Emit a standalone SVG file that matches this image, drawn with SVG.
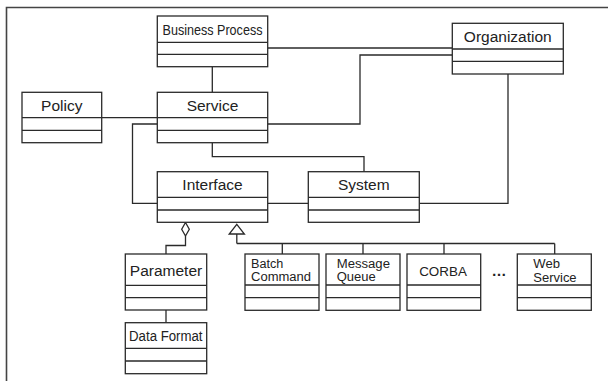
<svg xmlns="http://www.w3.org/2000/svg" width="608" height="381" viewBox="0 0 608 381">
<style>
.box{fill:#fff;stroke:#2a2a2a;stroke-width:1.3}
.div{stroke:#2a2a2a;stroke-width:1.3;fill:none}
.c{fill:none;stroke:#2a2a2a;stroke-width:1.3}
text{font-family:"Liberation Sans",Arial,sans-serif;fill:#222}
.t{font-size:15.5px;text-anchor:middle}
.s{font-size:12px}
</style>
<rect width="608" height="381" fill="#fff"/>
<path d="M608 7.5H6.5V381" fill="none" stroke="#444" stroke-width="1.6"/>
<g id="connectors">
<path class="c" d="M267.7 48H452.3"/>
<path class="c" d="M212.3 66.7V92.3"/>
<path class="c" d="M101.7 117.7H157.3"/>
<path class="c" d="M157.3 124H132.5V203.3H157.3"/>
<path class="c" d="M267.7 124H360V55H452.3"/>
<path class="c" d="M212.3 142.7V156.7H364V171.7"/>
<path class="c" d="M267.7 203.3H308.3"/>
<path class="c" d="M419.3 203.3H508V74"/>
<path class="c" d="M185.5 236V245.5H166V254"/>
<polygon points="185.5,222.5 189.3,229.2 185.5,236 181.7,229.2" fill="#fff" stroke="#2a2a2a" stroke-width="1.3"/>
<path class="c" d="M236.8 234V243.5" stroke-width="2"/>
<path class="c" d="M236.8 243.5H554.7M282.3 243.5V254M363 243.5V254M444 243.5V254M554.7 243.5V254"/>
<polygon points="236.8,224.3 244.4,234 229.2,234" fill="#fff" stroke="#2a2a2a" stroke-width="1.3"/>
<path class="c" d="M166 310V322.7"/>
</g>
<g id="business-process">
<rect class="box" x="157.3" y="16" width="110.4" height="50.7"/>
<path class="div" d="M157.3 42.3H267.7M157.3 54.3H267.7"/>
<text class="t" x="212.5" y="35" font-size="15" textLength="100" lengthAdjust="spacingAndGlyphs">Business Process</text>
</g>
<g id="organization">
<rect class="box" x="452.3" y="23.3" width="111" height="50.7"/>
<path class="div" d="M452.3 49H563.3M452.3 61.3H563.3"/>
<text class="t" x="507.8" y="41.5">Organization</text>
</g>
<g id="policy">
<rect class="box" x="22" y="92.3" width="79.7" height="50.4"/>
<path class="div" d="M22 117.7H101.7M22 130.3H101.7"/>
<text class="t" x="61.8" y="111">Policy</text>
</g>
<g id="service">
<rect class="box" x="157.3" y="92.3" width="110.4" height="50.4"/>
<path class="div" d="M157.3 117.7H267.7M157.3 130.3H267.7"/>
<text class="t" x="212.5" y="111">Service</text>
</g>
<g id="interface">
<rect class="box" x="157.3" y="171.7" width="110.4" height="50.6"/>
<path class="div" d="M157.3 197.3H267.7M157.3 210H267.7"/>
<text class="t" x="212.5" y="190">Interface</text>
</g>
<g id="system">
<rect class="box" x="308.3" y="171.7" width="111" height="50.6"/>
<path class="div" d="M308.3 197.3H419.3M308.3 210H419.3"/>
<text class="t" x="363.8" y="190">System</text>
</g>
<g id="parameter">
<rect class="box" x="125.3" y="254" width="81.4" height="56"/>
<path class="div" d="M125.3 285.3H206.7M125.3 297.7H206.7"/>
<text class="t" x="166" y="276">Parameter</text>
</g>
<g id="data-format">
<rect class="box" x="125.3" y="322.7" width="81.4" height="51"/>
<path class="div" d="M125.3 348.3H206.7M125.3 361H206.7"/>
<text class="t" x="165.8" y="340.7" textLength="73.5" lengthAdjust="spacingAndGlyphs">Data Format</text>
</g>
<g id="batch-command">
<rect class="box" x="245" y="254" width="74" height="56.3"/>
<path class="div" d="M245 285H319M245 297.7H319"/>
<text class="s" x="251" y="267.6" textLength="32.3" lengthAdjust="spacingAndGlyphs">Batch</text>
<text class="s" x="251" y="281.2" textLength="60" lengthAdjust="spacingAndGlyphs">Command</text>
</g>
<g id="message-queue">
<rect class="box" x="326" y="254" width="74" height="56.3"/>
<path class="div" d="M326 285H400M326 297.7H400"/>
<text class="s" x="336.7" y="267.8" textLength="53.3" lengthAdjust="spacingAndGlyphs">Message</text>
<text class="s" x="336.7" y="281.4" textLength="39" lengthAdjust="spacingAndGlyphs">Queue</text>
</g>
<g id="corba">
<rect class="box" x="407" y="254" width="73.7" height="56.3"/>
<path class="div" d="M407 285H480.7M407 297.7H480.7"/>
<text x="443" y="276" font-size="13.4" text-anchor="middle">CORBA</text>
</g>
<text x="499" y="276" font-size="15" text-anchor="middle" font-weight="bold">…</text>
<g id="web-service">
<rect class="box" x="517.3" y="254" width="74" height="56.3"/>
<path class="div" d="M517.3 285H591.3M517.3 297.7H591.3"/>
<text class="s" x="533.3" y="268" textLength="26.7" lengthAdjust="spacingAndGlyphs">Web</text>
<text class="s" x="533.3" y="281.6" textLength="43.3" lengthAdjust="spacingAndGlyphs">Service</text>
</g>
</svg>
